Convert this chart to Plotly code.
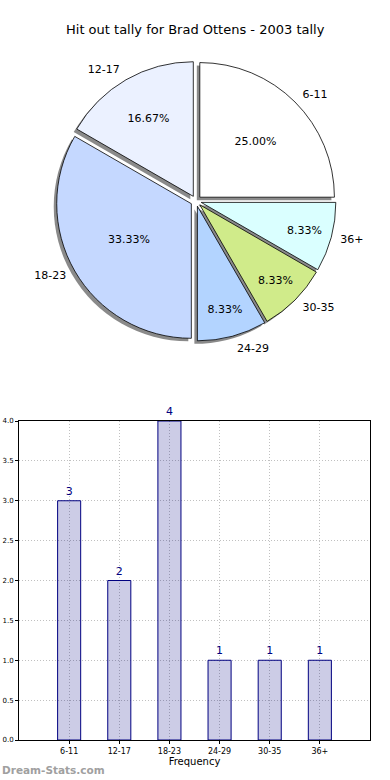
import plotly.graph_objects as go

categories = ["6-11", "12-17", "18-23", "24-29", "30-35", "36+"]
counts = [3, 2, 4, 1, 1, 1]
pie_colors = ["#FFFFFF", "#EBF1FF", "#C5D8FF", "#B3D4FF", "#D0EB8A", "#DAFFFF"]
y_ticks = [0.0, 0.5, 1.0, 1.5, 2.0, 2.5, 3.0, 3.5, 4.0]
title_text = "Hit out tally for Brad Ottens - 2003 tally"

W, H = 390, 780
FONT = "DejaVu Sans"

# pie geometry (pixels)
cx, cy, half = 196, 201, 140
pull = 0.04

def dom(cxp, cyp, h=half):
    return dict(x=[(cxp - h) / W, (cxp + h) / W],
                y=[1 - (cyp + h) / H, 1 - (cyp - h) / H])

fig = go.Figure()

common = dict(labels=categories, values=counts, sort=False,
              direction="counterclockwise", rotation=0, pull=pull)

# shadow
fig.add_trace(go.Pie(
    **common, domain=dom(cx - 3, cy + 3),
    marker=dict(colors=["#8a8a8a"] * len(counts), line=dict(width=0)),
    textinfo="none", hoverinfo="skip", showlegend=False,
))

# main pie with percentages inside
fig.add_trace(go.Pie(
    **common, domain=dom(cx, cy),
    marker=dict(colors=pie_colors, line=dict(color="black", width=0.8)),
    texttemplate="%{percent:.2%}", textposition="inside",
    insidetextorientation="horizontal",
    textfont=dict(family=FONT, size=11, color="black"),
    showlegend=False,
))

# outside labels (slightly larger invisible pie so labels sit further out)
fig.add_trace(go.Pie(
    **common, domain=dom(cx, cy, 146),
    marker=dict(colors=["rgba(0,0,0,0)"] * len(counts), line=dict(width=0)),
    texttemplate="%{label}", textposition="outside",
    outsidetextfont=dict(family=FONT, size=11, color="black"),
    hoverinfo="skip", showlegend=False,
))

# bar chart
fig.add_trace(go.Bar(
    x=categories, y=counts, width=0.46,
    marker=dict(color="rgba(0,0,128,0.2)", line=dict(color="#000080", width=1)),
    text=[str(c) for c in counts], textposition="outside",
    textfont=dict(family=FONT, size=11, color="#000080"),
    cliponaxis=False, showlegend=False,
))

fig.update_layout(
    width=W, height=H,
    margin=dict(l=0, r=0, t=0, b=0),
    paper_bgcolor="white", plot_bgcolor="white",
    font=dict(family=FONT, color="black"),
    uniformtext=dict(minsize=11, mode="show"),
    xaxis=dict(
        domain=[19 / W, 370 / W], range=[-1, 6], type="category",
        automargin=False,
        showgrid=True, gridcolor="#c0c0c0", griddash="1px,2px", gridwidth=1,
        showline=True, linecolor="black", linewidth=1, mirror=True,
        ticks="outside", ticklen=3, tickcolor="black",
        tickfont=dict(family=FONT, size=8),
        title=dict(text="Frequency", font=dict(family=FONT, size=10), standoff=2),
        zeroline=False,
    ),
    yaxis=dict(
        domain=[1 - 740 / H, 1 - 421 / H], range=[0, 4],
        automargin=False,
        tickvals=y_ticks, tickformat=".1f",
        showgrid=True, gridcolor="#c0c0c0", griddash="1px,2px", gridwidth=1,
        showline=True, linecolor="black", linewidth=1, mirror=True,
        ticks="outside", ticklen=3, tickcolor="black",
        tickfont=dict(family=FONT, size=7),
        zeroline=False,
    ),
    annotations=[
        dict(text=title_text, x=0.5, y=1 - 30 / H, xref="paper", yref="paper",
             yanchor="middle", showarrow=False,
             font=dict(family=FONT, size=13, color="black")),
        dict(text="<b>Dream-Stats.com</b>", x=0, y=1 - 770 / H, xref="paper", yref="paper",
             xanchor="left", yanchor="middle", showarrow=False,
             font=dict(family=FONT, size=10.5, color="#a0a0a0")),
    ],
)

fig.write_html("out.html", config={"displayModeBar": False},
               post_script="document.body.style.margin='0';")
